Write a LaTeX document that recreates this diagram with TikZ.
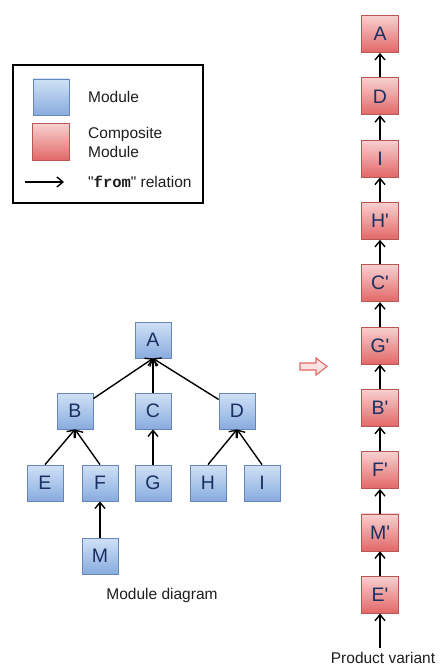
\documentclass[tikz,border=0pt]{standalone}
\usepackage{fontspec}
\setmainfont[Ligatures=TeXOff]{Liberation Sans}
\setmonofont[Ligatures=TeXOff]{Liberation Mono}
\usetikzlibrary{arrows.meta}
\definecolor{bluetop}{HTML}{D0E1F6}
\definecolor{bluebot}{HTML}{88ACDE}
\definecolor{blueline}{HTML}{6685BA}
\definecolor{redtop}{HTML}{F8D0D0}
\definecolor{redbot}{HTML}{E26767}
\definecolor{redline}{HTML}{B85752}
\definecolor{lettercol}{HTML}{1A3063}
\definecolor{txtcol}{HTML}{1E1E1E}
\begin{document}
\begin{tikzpicture}[x=1pt,y=-1pt,
  mod/.style={draw=blueline, line width=0.8pt, top color=bluetop, bottom color=bluebot,
    minimum width=36, minimum height=36, inner sep=0pt, text=lettercol,
    font=\fontsize{19.5}{19.5}\selectfont},
  cmod/.style={draw=redline, line width=0.8pt, top color=redtop, bottom color=redbot,
    minimum width=37, minimum height=37, inner sep=0pt, text=lettercol,
    font=\fontsize{19.5}{19.5}\selectfont},
  rel/.style={line width=1.4pt, -{Straight Barb[length=6pt,width=10pt,line width=1.4pt]}},
  lbl/.style={text=txtcol, font=\fontsize{15.5}{19}\selectfont, inner sep=0pt}]
\useasboundingbox (0,0) rectangle (442,666);
\fill[white] (0,0) rectangle (442,666);

% legend
\node[draw=black, line width=1.3pt, minimum width=190, minimum height=138, inner sep=0pt] (legend) at (108,134) {};
\node[mod] (lgmod) at (51,97) {};
\node[cmod] (lgcmod) at (51,142) {};
\coordinate (lga) at (25,182);
\coordinate (lgb) at (64,182);
\draw[rel] (lga) -- (lgb);
\node[lbl, anchor=west] (tmod) at (88,97) {Module};
\node[lbl, anchor=west, align=left] (tcmod) at (88,142) {Composite\\Module};
\node[lbl, anchor=west] (trel) at (88,182) {"\textbf{\texttt{from}}" relation};

% module diagram
\node[mod] (A) at (153,340) {A};
\node[mod] (B) at (75,411) {B};
\node[mod] (C) at (153,411) {C};
\node[mod] (D) at (237,411) {D};
\node[mod] (E) at (45,483) {E};
\node[mod] (F) at (100,483) {F};
\node[mod] (G) at (153,483) {G};
\node[mod] (H) at (208,483) {H};
\node[mod] (I) at (262,483) {I};
\node[mod] (M) at (100,556) {M};
\node[lbl] (mdlabel) at (162,595) {Module diagram};

\draw[rel] (B) -- (A.south);
\draw[rel] (C) -- (A.south);
\draw[rel] (D) -- (A.south);
\draw[rel] (E.north) -- (B.south);
\draw[rel] (F.north) -- (B.south);
\draw[rel] (G) -- (C);
\draw[rel] (H.north) -- (D.south);
\draw[rel] (I.north) -- (D.south);
\draw[rel] (M) -- (F);

% block arrow
\draw[draw=redbot, fill=redtop!60, line width=1.1pt, line join=miter]
  (300,363) -- (316,363) -- (316,358) -- (327,366.5) -- (316,375) -- (316,370) -- (300,370) -- cycle;

% chain
\foreach \n/\t [count=\i from 0] in {cA/A,cD/D,cI/I,cH/H',cC/C',cG/G',cB/B',cF/F',cM/M',cE/E'}{
  \node[cmod] (\n) at (380,{34+62.3*\i}) {\t};
}
\foreach \lo/\hi in {cD/cA,cI/cD,cH/cI,cC/cH,cG/cC,cB/cG,cF/cB,cM/cF,cE/cM}{
  \draw[rel] (\lo) -- (\hi);
}
\coordinate (pvstart) at (380,648);
\draw[rel] (pvstart) -- (cE);
\node[lbl, font=\fontsize{15.5}{19}\selectfont] (pv) at (383,658) {Product variant};
\end{tikzpicture}
\end{document}
